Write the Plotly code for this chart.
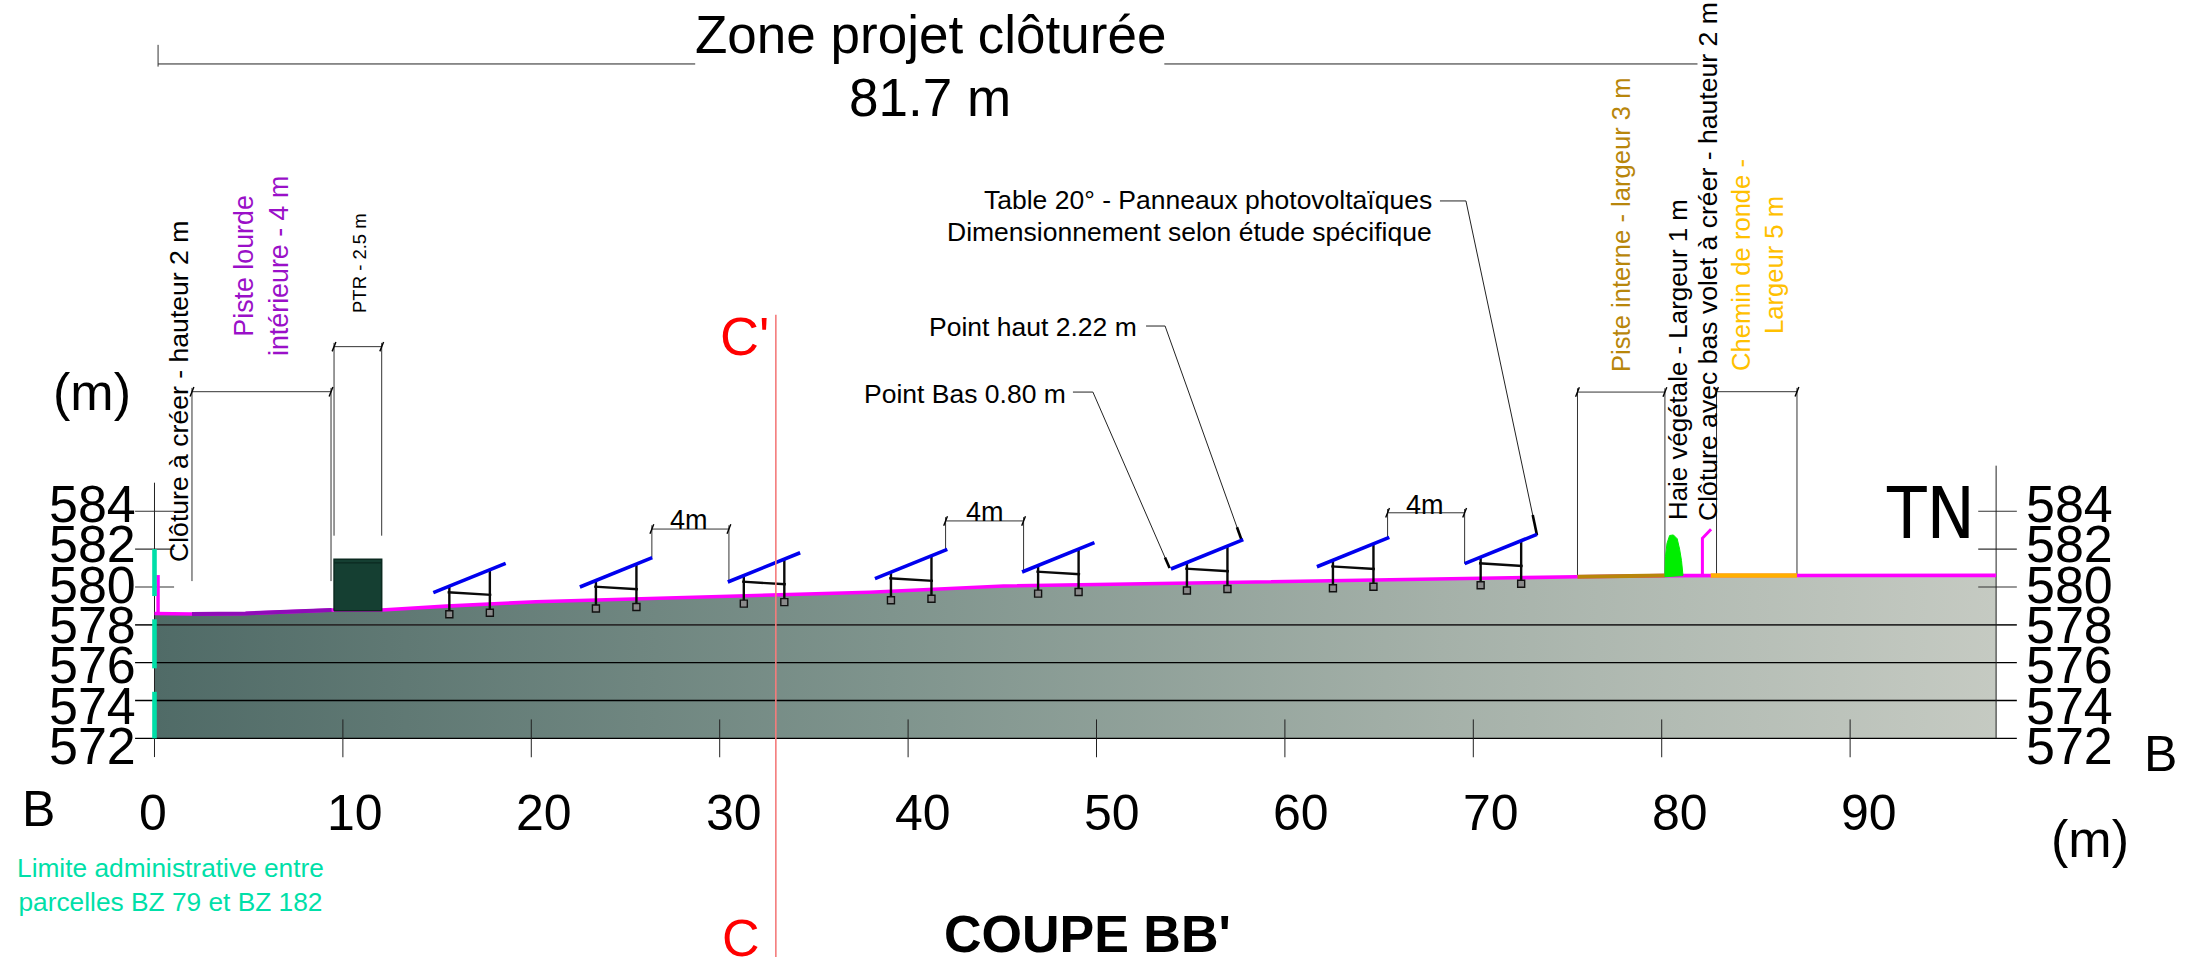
import plotly.graph_objects as go

# ---------- data (metres / altitude in m) ----------
terrain_x = [0, 2.0, 4.83, 9.45, 12.06, 15.5, 20.24, 28.95, 37.96, 45.07, 55.0, 66.1, 75.5, 80.2, 97.75]
terrain_y = [578.6, 578.57, 578.6, 578.78, 578.78, 578.99, 579.22, 579.45, 579.72, 580.05, 580.22, 580.42, 580.54, 580.6, 580.61]

table_x = [14.8, 22.58, 30.43, 38.24, 46.05, 53.95, 61.7, 69.54]
table_y = [579.70, 580.0, 580.26, 580.44, 580.79, 580.95, 581.07, 581.23]

y_tick_values = [584, 582, 580, 578, 576, 574, 572]
x_tick_values = [0, 10, 20, 30, 40, 50, 60, 70, 80, 90]

purple_x, purple_y = [1.99, 4.83, 9.4], [578.57, 578.6, 578.78]
gold_x, gold_y = [75.53, 80.17], [580.54, 580.6]
orange_x, orange_y = [82.6, 87.18], [580.6, 580.6]
hedge_x = [80.17, 80.2, 80.28, 80.42, 80.62, 80.82, 80.95, 81.05, 81.13, 80.17]
hedge_y = [580.54, 581.6, 582.3, 582.72, 582.75, 582.55, 582.0, 581.4, 580.6, 580.54]
fence_left_x, fence_left_y = [0.19, 0.19], [578.6, 580.63]
fence_right_x, fence_right_y = [82.16, 82.16, 82.62], [580.63, 582.57, 583.05]
limit_segments = [(572.0, 574.46), (575.70, 578.29), (579.52, 582.0)]
ptr_x, ptr_y = [9.53, 12.06], [578.74, 581.46]
ptr_inner_y = 581.27

# horizontal dimensions: x0, x1, y, foot left, foot right
dims = [
    (1.99, 9.37, 590.32, 580.31, 580.31),
    (9.53, 12.06, 592.70, 582.71, 582.71),
    (75.53, 80.17, 590.3, 580.54, 580.54),
    (82.91, 87.18, 590.32, 580.63, 580.63),
    (26.4, 30.49, 583.06, 581.55, 580.26),
    (41.99, 46.13, 583.49, 581.99, 580.79),
    (65.45, 69.54, 583.92, 582.62, 581.23),
]
leader_haut = ([52.63, 53.64, 57.7], [593.79, 593.79, 582.48])
leader_bas = ([48.75, 49.81, 53.88], [590.3, 590.3, 581.0])
leader_table = ([68.23, 69.61, 73.38], [600.4, 600.4, 582.74])
top_dim_left = ([0.19, 28.7], [607.64, 607.64])
top_dim_right = ([53.6, 81.9], [607.64, 607.64])
section_x, section_y = [32.98, 32.98], [594.38, 560.44]

# ---------- page geometry ----------
W, H = 2193, 962
X_RANGE = [-8.2, 108.2]
Y_RANGE = [560.18, 611.02]
FONT = "Liberation Sans"
BLACK = "#000000"


def segs(pairs):
    xs, ys = [], []
    for (x0, y0), (x1, y1) in pairs:
        xs += [x0, x1, None]
        ys += [y0, y1, None]
    return xs, ys


fig = go.Figure()


def line(x, y, color=BLACK, width=1, **kw):
    fig.add_trace(go.Scatter(x=x, y=y, mode="lines", line=dict(color=color, width=width),
                             hoverinfo="skip", showlegend=False, **kw))


# ground
fig.add_trace(go.Scatter(
    x=terrain_x + [97.75, 0, 0], y=terrain_y + [572, 572, terrain_y[0]],
    mode="lines", line=dict(width=0), fill="toself", hoverinfo="skip", showlegend=False,
    fillgradient=dict(type="horizontal",
                      colorscale=[[0, "#506b67"], [0.4, "#7f948d"], [0.7, "#a5b1a9"], [1, "#c5cac2"]]),
))

# grid and ticks
x, y = segs([((-1.03, v), (98.85, v)) for v in (576, 574, 572)])
line(x, y, BLACK, 1.3)
line([-1.03, 98.85], [578, 578], "#2b2b2b", 1.8)
x, y = segs([p for v in (580, 582, 584) for p in (((-1.03, v), (1.04, v)), ((96.8, v), (98.85, v)))])
line(x, y, "#333333", 1.1)
x, y = segs([((v, 573.0), (v, 571.0)) for v in x_tick_values[1:]])
line(x, y, "#222222", 1)
line([0, 0], [585.51, 571.01], "#222222", 1)
line([97.75, 97.75], [586.41, 572], "#222222", 1)

# dimension lines
pairs, ticks = [], []
for x0, x1, yy, f0, f1 in dims:
    pairs += [((x0, yy), (x1, yy)), ((x0, yy + 0.2), (x0, f0)), ((x1, yy + 0.2), (x1, f1))]
    ticks += [((x0 - 0.1, yy - 0.25), (x0 + 0.1, yy + 0.25)), ((x1 - 0.1, yy - 0.25), (x1 + 0.1, yy + 0.25))]
x, y = segs(pairs)
line(x, y, "#333333", 1)
x, y = segs(ticks)
line(x, y, BLACK, 1.4)

for lx, ly in (leader_haut, leader_bas, leader_table, top_dim_left, top_dim_right):
    line(lx, ly, "#222222", 1)
line([0.19, 0.19], [608.65, 607.5], "#333333", 1)
for lx, ly in (leader_haut, leader_bas, leader_table):
    dx, dy = lx[2] - lx[1], ly[2] - ly[1]
    line([lx[2] - dx * 0.06, lx[2]], [ly[2] - dy * 0.06, ly[2]], BLACK, 2.6)

# terrain and coloured strips
line(terrain_x, terrain_y, "#ff00ff", 3.6)
line(fence_left_x, fence_left_y, "#ff00ff", 3.4)
line(fence_right_x, fence_right_y, "#ff00ff", 3)
line(purple_x, purple_y, "#8f0cb8", 4)
line(gold_x, gold_y, "#b8860b", 4)
line(orange_x, orange_y, "#ffb000", 4.5)
for a, b in limit_segments:
    line([0, 0], [a, b], "#00dfa8", 4.6)
fig.add_trace(go.Scatter(x=hedge_x, y=hedge_y, mode="lines", line=dict(color="#00ee00", width=1),
                         fill="toself", fillcolor="#00ee00", hoverinfo="skip", showlegend=False))

# transformer box
fig.add_trace(go.Scatter(x=[ptr_x[0], ptr_x[1], ptr_x[1], ptr_x[0], ptr_x[0]],
                         y=[ptr_y[0], ptr_y[0], ptr_y[1], ptr_y[1], ptr_y[0]],
                         mode="lines", line=dict(color="#0b2a20", width=1.5), fill="toself",
                         fillcolor="#153f32", hoverinfo="skip", showlegend=False))
line(ptr_x, [ptr_inner_y, ptr_inner_y], "#0b2a20", 1.2)

# tables: posts, braces, panels, feet
posts, feet_x, feet_y, panels = [], [], [], []
for tx, ty in zip(table_x, table_y):
    posts += [((tx + 0.85, ty + 0.35), (tx + 0.85, ty - 1.0)),
              ((tx + 3.0, ty + 1.2), (tx + 3.0, ty - 0.95)),
              ((tx + 0.76, ty + 0.02), (tx + 3.08, ty - 0.12))]
    feet_x += [tx + 0.85, tx + 3.0]
    feet_y += [ty - 1.14, ty - 1.06]
    panels.append(((tx, ty), (tx + 3.84, ty + 1.55)))
x, y = segs(posts)
line(x, y, "#0a0a0a", 2.4)
fig.add_trace(go.Scatter(x=feet_x, y=feet_y, mode="markers", hoverinfo="skip", showlegend=False,
                         marker=dict(symbol="square", size=7, color="#8a8a8a",
                                     line=dict(color="#111111", width=1.4))))
x, y = segs(panels)
line(x, y, "#0000ee", 3.6)

# section line
line(section_x, section_y, "#f47c7c", 1.6)

anns = []


def txt(text, px, py, size, color=BLACK, angle=0, anchor="center", family=FONT, bold=False):
    anns.append(dict(text=f"<b>{text}</b>" if bold else text, xref="paper", yref="paper",
                     x=px / W, y=1 - py / H, xanchor=anchor, yanchor="middle", showarrow=False,
                     textangle=angle, font=dict(family=family, size=size, color=color),
                     align="center" if anchor == "center" else anchor))


for v in y_tick_values:
    py = 625 + (578 - v) * 20.15
    txt(str(v), 92.5, py, 52)
    txt(str(v), 2069, py, 52)
for v in x_tick_values:
    anns.append(dict(text=str(v), xref="x", yref="y", x=v, y=568.05,
                     xshift=-1.8 if v == 0 else 11.25 + 0.085 * v,
                     yanchor="middle", showarrow=False, font=dict(family=FONT, size=50, color=BLACK)))

txt("Zone projet clôturée", 930, 34.5, 53)
txt("81.7 m", 930, 98, 53)
txt("(m)", 92, 392, 52)
txt("(m)", 2090, 839, 52)
txt("B", 38, 809, 50)
txt("B", 2160, 754, 50)
txt("TN", 1930, 513, 72, family="DejaVu Sans Condensed")
txt("C'", 744, 336, 54, color="#ff0000")
txt("C", 741, 938, 52, color="#ff0000")
txt("COUPE BB'", 1087, 934, 52, bold=True)
txt("Limite administrative entre<br>parcelles BZ 79 et BZ 182", 170.5, 884.5, 26.3, color="#00dfa8")
txt("Clôture à créer - hauteur 2 m", 179, 392, 26.6, angle=-90)
txt("Piste lourde<br>intérieure - 4 m", 262, 266, 26.8, color="#9a10c8", angle=-90)
txt("PTR - 2.5 m", 359, 263, 18.5, angle=-90)
txt("Table 20° - Panneaux photovoltaïques", 1434, 200, 26.5, anchor="right")
txt("Dimensionnement selon étude spécifique", 1434, 232, 26.5, anchor="right")
txt("Point haut 2.22 m", 1139, 327, 26.5, anchor="right")
txt("Point Bas 0.80 m", 1068, 394, 26.5, anchor="right")
txt("4m", 689, 520, 27)
txt("4m", 985, 512, 27)
txt("4m", 1425, 505, 27)
txt("Piste interne - largeur 3 m", 1621, 225, 25.6, color="#b8860b", angle=-90)
txt("Haie végétale - Largeur 1 m", 1678, 360, 25.9, angle=-90)
txt("Clôture avec bas volet à créer - hauteur 2 m", 1708, 262, 26.6, angle=-90)
txt("Chemin de ronde -<br>Largeur 5 m", 1757, 265, 25.6, color="#ffc000", angle=-90)

fig.update_layout(
    width=W, height=H, margin=dict(l=0, r=0, t=0, b=0),
    paper_bgcolor="white", plot_bgcolor="white", showlegend=False,
    xaxis=dict(range=X_RANGE, visible=False, fixedrange=True),
    yaxis=dict(range=Y_RANGE, visible=False, fixedrange=True),
    annotations=anns,
)
fig.write_html("out.html", config={"displayModeBar": False},
               post_script="document.body.style.margin='0';document.body.style.overflow='hidden';")
